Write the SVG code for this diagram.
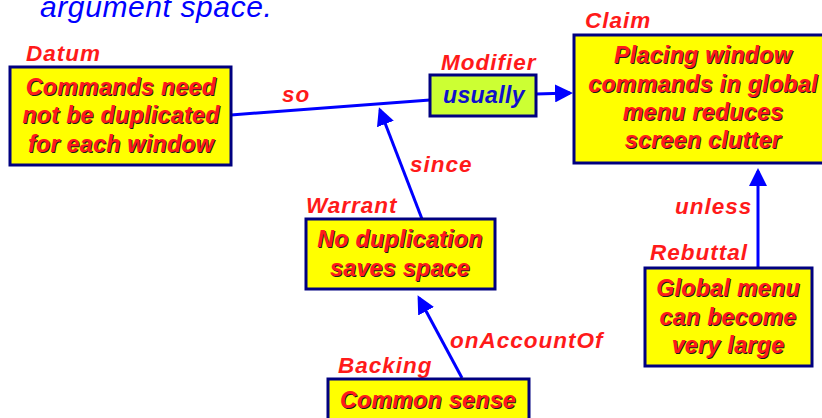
<svg xmlns="http://www.w3.org/2000/svg" width="822" height="418" viewBox="0 0 822 418">
<style>
.box{fill:#ffff00;stroke:#000080;stroke-width:3}
.mod{fill:#ccff33;stroke:#000080;stroke-width:3}
.t{font-family:"Liberation Sans",Arial,sans-serif;font-weight:bold;font-style:italic;font-size:23px;letter-spacing:0.4px;fill:#ff1a1a;text-anchor:middle}
.sh{fill:#1a1a1a}
.lbl{font-family:"Liberation Sans",Arial,sans-serif;font-weight:bold;font-style:italic;font-size:22.5px;letter-spacing:1px;fill:#ff1a1a}
.con{stroke:#0000ff;stroke-width:3;fill:none}
</style>
<defs>
<marker id="ah" markerWidth="6" markerHeight="6" refX="5" refY="3" orient="auto" markerUnits="strokeWidth">
<path d="M0,0 L6,3 L0,6 Z" fill="#0000ff"/>
</marker>
</defs>
<text x="40" y="17" font-family="Liberation Sans,Arial,sans-serif" font-style="italic" font-size="30" letter-spacing="0.6" fill="#0000ff">argument space.</text>
<g id="connectors">
<line class="con" x1="231" y1="115" x2="430" y2="100"/>
<line class="con" x1="536" y1="94" x2="570" y2="93" marker-end="url(#ah)"/>
<line class="con" x1="422" y1="219" x2="380" y2="110" marker-end="url(#ah)"/>
<line class="con" x1="462" y1="378" x2="419" y2="298" marker-end="url(#ah)"/>
<line class="con" x1="758" y1="267" x2="758" y2="171" marker-end="url(#ah)"/>
<text class="lbl" x="282" y="102">so</text>
<text class="lbl" x="410" y="172">since</text>
<text class="lbl" x="450" y="348">onAccountOf</text>
<text class="lbl" x="675" y="214">unless</text>
</g>
<g id="datum">
<text class="lbl" x="26" y="61">Datum</text>
<rect class="box" x="10" y="67" width="221" height="98"/>
<text class="t sh" x="122" y="96">Commands need</text><text class="t" x="121" y="95">Commands need</text>
<text class="t sh" x="122" y="124">not be duplicated</text><text class="t" x="121" y="123">not be duplicated</text>
<text class="t sh" x="122" y="153">for each window</text><text class="t" x="121" y="152">for each window</text>
</g>
<g id="modifier">
<text class="lbl" x="441" y="70">Modifier</text>
<rect class="mod" x="430" y="75" width="106" height="41"/>
<text class="t" x="484" y="103" style="fill:#1010cc">usually</text>
</g>
<g id="claim">
<text class="lbl" x="585" y="28">Claim</text>
<rect class="box" x="574" y="35" width="260" height="128"/>
<text class="t sh" x="704" y="64">Placing window</text><text class="t" x="703" y="63">Placing window</text>
<text class="t sh" x="704" y="93">commands in global</text><text class="t" x="703" y="92">commands in global</text>
<text class="t sh" x="704" y="121">menu reduces</text><text class="t" x="703" y="120">menu reduces</text>
<text class="t sh" x="704" y="149">screen clutter</text><text class="t" x="703" y="148">screen clutter</text>
</g>
<g id="warrant">
<text class="lbl" x="306" y="213">Warrant</text>
<rect class="box" x="306" y="219" width="189" height="70"/>
<text class="t sh" x="401" y="248">No duplication</text><text class="t" x="400" y="247">No duplication</text>
<text class="t sh" x="401" y="277">saves space</text><text class="t" x="400" y="276">saves space</text>
</g>
<g id="backing">
<text class="lbl" x="338" y="373">Backing</text>
<rect class="box" x="328" y="379" width="201" height="45"/>
<text class="t sh" x="429" y="409">Common sense</text><text class="t" x="428" y="408">Common sense</text>
</g>
<g id="rebuttal">
<text class="lbl" x="650" y="260">Rebuttal</text>
<rect class="box" x="645" y="268" width="167" height="98"/>
<text class="t sh" x="729" y="297">Global menu</text><text class="t" x="728" y="296">Global menu</text>
<text class="t sh" x="729" y="326">can become</text><text class="t" x="728" y="325">can become</text>
<text class="t sh" x="729" y="354">very large</text><text class="t" x="728" y="353">very large</text>
</g>
</svg>
